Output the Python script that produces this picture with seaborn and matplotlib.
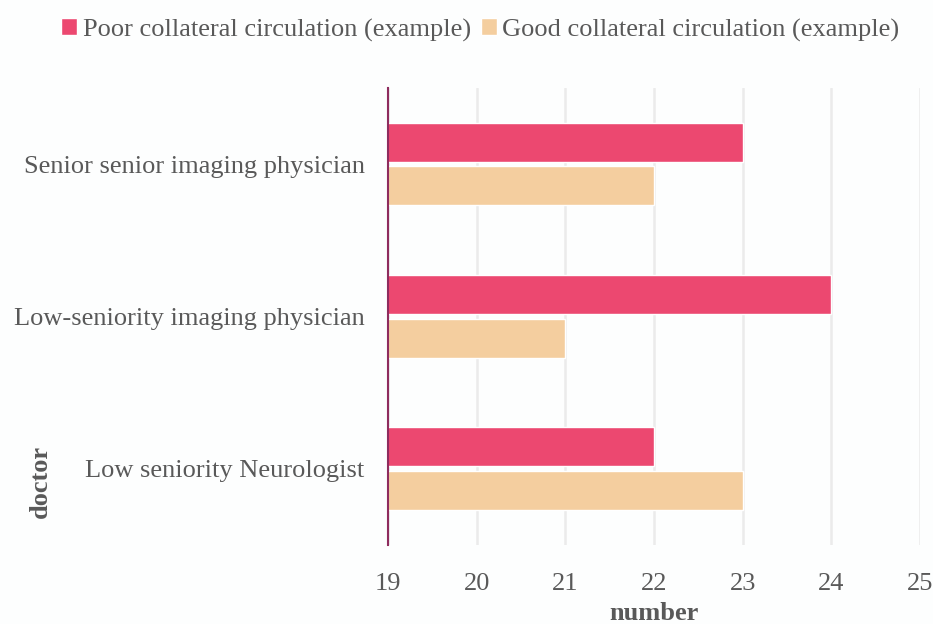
import matplotlib
matplotlib.use("Agg")
import matplotlib.pyplot as plt
import seaborn as sns
import pandas as pd

# data
doctors = ["Senior senior imaging physician",
           "Low-seniority imaging physician",
           "Low seniority Neurologist"]
poor = [23, 24, 22]
good = [22, 21, 23]
series = ["Poor collateral circulation (example)", "Good collateral circulation (example)"]
colors = ["#EC4870", "#F4CE9F"]
xticks = [19, 20, 21, 22, 23, 24, 25]

df = pd.DataFrame({
    "doctor": doctors * 2,
    "number": poor + good,
    "series": [series[0]] * 3 + [series[1]] * 3,
})

sns.set_theme(style="white")
plt.rcParams["font.family"] = ["Liberation Serif", "DejaVu Serif"]
text_color = "#595959"
bg = "#FDFEFE"

fig = plt.figure(figsize=(9.33, 6.24), dpi=100, facecolor=bg)
ax = fig.add_axes([0.416, 0.127, 0.570, 0.732])
ax.set_facecolor(bg)

sns.barplot(data=df, y="doctor", x="number", hue="series", orient="h",
            palette=colors, saturation=1, width=0.57, gap=0.1, ax=ax, legend=True)

ax.set_xlim(xticks[0], xticks[-1])
ax.set_xticks(xticks)
ax.grid(axis="x", color="#EBEBEB", linewidth=1.8)
ax.set_axisbelow(True)
for s in ["top", "right", "bottom"]:
    ax.spines[s].set_visible(False)
ax.spines["left"].set_color("#8E2C5E")
ax.spines["left"].set_linewidth(1.5)

ax.tick_params(axis="both", length=0, labelsize=19, labelcolor=text_color)
ax.tick_params(axis="x", pad=20)
ax.tick_params(axis="y", pad=17)

ax.set_xlabel("number", fontsize=19, fontweight="bold", color=text_color)
ax.xaxis.set_label_coords(0.5, -0.125)
ax.set_ylabel("doctor", fontsize=19, fontweight="bold", color=text_color)
ax.yaxis.set_label_coords(-0.632, 0.138)

handles, labels = ax.get_legend_handles_labels()
ax.legend(handles, labels, loc="center", bbox_to_anchor=(0.515, 0.952),
          bbox_transform=fig.transFigure, ncol=2, frameon=False,
          fontsize=19, labelcolor=text_color, handlelength=0.6,
          handleheight=0.6, handletextpad=0.2, columnspacing=0.4)

fig.savefig("out.png", dpi=100, facecolor=bg)
